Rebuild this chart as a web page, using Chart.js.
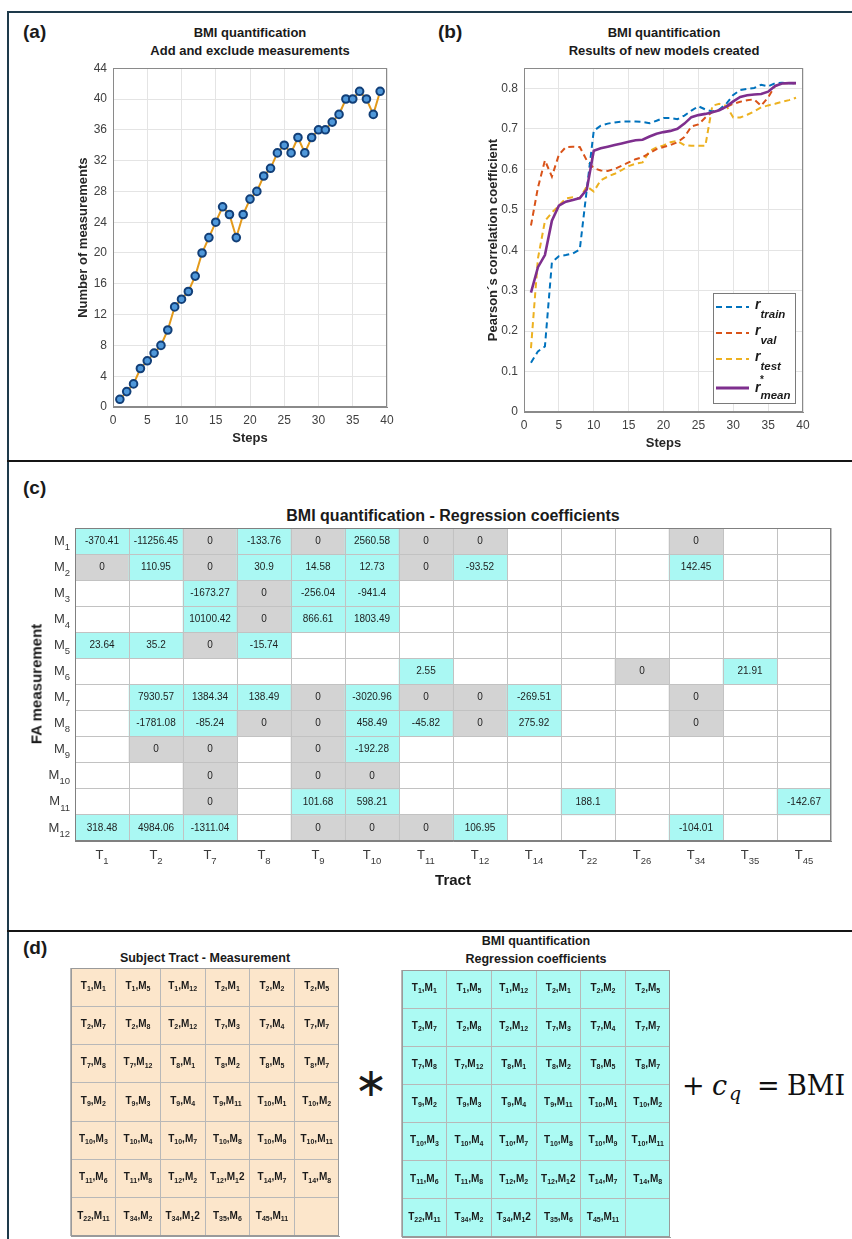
<!DOCTYPE html>
<html>
<head>
<meta charset="utf-8">
<title>BMI quantification</title>
<script src="https://cdn.jsdelivr.net/npm/chart.js@4.4.1/dist/chart.umd.min.js"></script>
<style>
  body { margin: 0; background: #fff; }
  #fig { position: relative; width: 852px; height: 1239px; overflow: hidden; font-family: "Liberation Sans", Arial, sans-serif; color: #1a1a1a; }
  #fig canvas { position: absolute; }
  .rule { position: absolute; }
  .t { position: absolute; white-space: nowrap; transform: translate(-50%, -50%); font-weight: bold; text-align: center; }
  .panel { position: absolute; font-weight: bold; font-size: 19px; line-height: 19px; }
  .eq { position: absolute; font-family: "DejaVu Serif", "Liberation Serif", serif; font-size: 27px; line-height: 30px; white-space: nowrap; color: #111; }
</style>
</head>
<body>
<div id="fig">
  <div class="rule" style="left:7px;top:11px;width:845px;height:2px;background:#1e3a4b"></div>
  <div class="rule" style="left:7px;top:11px;width:2px;height:1228px;background:#1e3a4b"></div>
  <div class="rule" style="left:7px;top:460px;width:845px;height:2px;background:#151515"></div>
  <div class="rule" style="left:7px;top:930px;width:845px;height:2px;background:#151515"></div>

  <div class="panel" style="left:23px;top:22px">(a)</div>
  <div class="panel" style="left:438px;top:22px">(b)</div>
  <div class="panel" style="left:23px;top:478px">(c)</div>
  <div class="panel" style="left:23px;top:938px">(d)</div>

  <div class="t" style="left:250px;top:42px;font-size:13px;line-height:18px">BMI quantification<br>Add and exclude measurements</div>
  <div class="t" style="left:664px;top:42px;font-size:13px;line-height:18px">BMI quantification<br>Results of new models created</div>
  <canvas id="chartA" width="345" height="395" style="left:60px;top:55px"></canvas>
  <canvas id="chartB" width="350" height="400" style="left:470px;top:55px"></canvas>

  <div class="t" style="left:453px;top:516px;font-size:16px">BMI quantification - Regression coefficients</div>
  <canvas id="chartC" width="825" height="400" style="left:20px;top:495px"></canvas>
  <div class="t" style="left:36px;top:684px;font-size:15px;transform:translate(-50%,-50%) rotate(-90deg)">FA measurement</div>
  <div class="t" style="left:453px;top:879px;font-size:15px">Tract</div>

  <div class="t" style="left:205px;top:958px;font-size:12.5px">Subject Tract - Measurement</div>
  <div class="t" style="left:536px;top:950px;font-size:12.5px;line-height:17.5px">BMI quantification<br>Regression coefficients</div>
  <canvas id="chartDL" width="290" height="279" style="left:60px;top:960px"></canvas>
  <canvas id="chartDR" width="290" height="277" style="left:390px;top:962px"></canvas>

  <div class="t" style="left:371px;top:1082px;font-family:'DejaVu Sans',sans-serif;font-weight:normal;font-size:40px;line-height:40px">∗</div>
  <span class="eq" style="left:682px;top:1071px">+</span>
  <span class="eq" style="left:712px;top:1071px;font-style:italic">c</span>
  <span class="eq" style="left:729px;top:1078px;font-style:italic;font-size:19px">q</span>
  <span class="eq" style="left:757px;top:1071px">=</span>
  <span class="eq" style="left:787px;top:1071px">BMI</span>
</div>

<script>
// ---- panel (a): number of measurements per step
const steps = [1, 2, 3, 4, 5, 6, 7, 8, 9, 10, 11, 12, 13, 14, 15, 16, 17, 18, 19, 20,
  21, 22, 23, 24, 25, 26, 27, 28, 29, 30, 31, 32, 33, 34, 35, 36, 37, 38, 39];
const measurementsCount = [1, 2, 3, 5, 6, 7, 8, 10, 13, 14, 15, 17, 20, 22, 24, 26, 25, 22, 25, 27,
  28, 30, 31, 33, 34, 33, 35, 33, 35, 36, 36, 37, 38, 40, 40, 41, 40, 38, 41];

// ---- panel (b): Pearson's r of the new models
const rTrain = [0.122, 0.15, 0.162, 0.37, 0.385, 0.388, 0.392, 0.402, 0.55, 0.695,
  0.708, 0.713, 0.716, 0.718, 0.718, 0.718, 0.717, 0.714, 0.72, 0.727,
  0.727, 0.724, 0.733, 0.745, 0.756, 0.748, 0.743, 0.748, 0.762, 0.784,
  0.796, 0.799, 0.801, 0.809, 0.805, 0.813, 0.814, 0.813, 0.813];
const rVal = [0.461, 0.555, 0.622, 0.582, 0.636, 0.655, 0.656, 0.655, 0.622, 0.603,
  0.597, 0.596, 0.601, 0.609, 0.617, 0.625, 0.63, 0.64, 0.65, 0.655,
  0.66, 0.667, 0.68, 0.706, 0.711, 0.728, 0.742, 0.747, 0.754, 0.762,
  0.767, 0.771, 0.773, 0.757, 0.778, 0.806, 0.813, 0.813, 0.813];
const rTest = [0.158, 0.38, 0.472, 0.493, 0.51, 0.528, 0.531, 0.528, 0.558, 0.545,
  0.573, 0.582, 0.589, 0.598, 0.608, 0.614, 0.617, 0.645, 0.654, 0.659,
  0.667, 0.67, 0.66, 0.658, 0.658, 0.658, 0.757, 0.762, 0.757, 0.728,
  0.728, 0.735, 0.743, 0.753, 0.758, 0.762, 0.767, 0.771, 0.777];
const rMean = [0.295, 0.358, 0.388, 0.473, 0.51, 0.52, 0.524, 0.529, 0.55, 0.646,
  0.652, 0.656, 0.66, 0.664, 0.668, 0.672, 0.673, 0.681, 0.688, 0.692,
  0.695, 0.7, 0.713, 0.729, 0.734, 0.737, 0.741, 0.746, 0.755, 0.768,
  0.779, 0.783, 0.785, 0.786, 0.792, 0.806, 0.812, 0.813, 0.813];

// ---- panel (c): regression coefficients (null = tract/measurement not used)
const tractLabels = ['1', '2', '7', '8', '9', '10', '11', '12', '14', '22', '26', '34', '35', '45'];
const measureLabels = ['1', '2', '3', '4', '5', '6', '7', '8', '9', '10', '11', '12'];
const coefM1 = [-370.41, -11256.45, 0, -133.76, 0, 2560.58, 0, 0, null, null, null, 0, null, null];
const coefM2 = [0, 110.95, 0, 30.9, 14.58, 12.73, 0, -93.52, null, null, null, 142.45, null, null];
const coefM3 = [null, null, -1673.27, 0, -256.04, -941.4, null, null, null, null, null, null, null, null];
const coefM4 = [null, null, 10100.42, 0, 866.61, 1803.49, null, null, null, null, null, null, null, null];
const coefM5 = [23.64, 35.2, 0, -15.74, null, null, null, null, null, null, null, null, null, null];
const coefM6 = [null, null, null, null, null, null, 2.55, null, null, null, 0, null, 21.91, null];
const coefM7 = [null, 7930.57, 1384.34, 138.49, 0, -3020.96, 0, 0, -269.51, null, null, 0, null, null];
const coefM8 = [null, -1781.08, -85.24, 0, 0, 458.49, -45.82, 0, 275.92, null, null, 0, null, null];
const coefM9 = [null, 0, 0, null, 0, -192.28, null, null, null, null, null, null, null, null];
const coefM10 = [null, null, 0, null, 0, 0, null, null, null, null, null, null, null, null];
const coefM11 = [null, null, 0, null, 101.68, 598.21, null, null, null, 188.1, null, null, null, -142.67];
const coefM12 = [318.48, 4984.06, -1311.04, null, 0, 0, 0, 106.95, null, null, null, -104.01, null, null];
const coefRows = [coefM1, coefM2, coefM3, coefM4, coefM5, coefM6, coefM7, coefM8, coefM9, coefM10, coefM11, coefM12];

// ---- panel (d): tract-measurement pairs
const pairColumns = ['1', '2', '3', '4', '5', '6'];
const pairRow1 = ['T1,M1', 'T1,M5', 'T1,M12', 'T2,M1', 'T2,M2', 'T2,M5'];
const pairRow2 = ['T2,M7', 'T2,M8', 'T2,M12', 'T7,M3', 'T7,M4', 'T7,M7'];
const pairRow3 = ['T7,M8', 'T7,M12', 'T8,M1', 'T8,M2', 'T8,M5', 'T8,M7'];
const pairRow4 = ['T9,M2', 'T9,M3', 'T9,M4', 'T9,M11', 'T10,M1', 'T10,M2'];
const pairRow5 = ['T10,M3', 'T10,M4', 'T10,M7', 'T10,M8', 'T10,M9', 'T10,M11'];
const pairRow6 = ['T11,M6', 'T11,M8', 'T12,M2', 'T12,M1 2', 'T14,M7', 'T14,M8'];
const pairRow7 = ['T22,M11', 'T34,M2', 'T34,M1 2', 'T35,M6', 'T45,M11', ''];
const pairRows = [pairRow1, pairRow2, pairRow3, pairRow4, pairRow5, pairRow6, pairRow7];

const FONT = '"Liberation Sans", Arial, sans-serif';
Chart.defaults.font.family = FONT;
Chart.defaults.animation = false;

const C_TRAIN = '#0072BD', C_VAL = '#D95319', C_TEST = '#EDB120', C_MEAN = '#7E2F8E';
const TICK = '#404040', GRID = '#e4e4e4', BOX = '#8a8a8a';

// box around the plot area, like a MATLAB axes
function framePlugin(color) {
  return {
    id: 'frame',
    afterDraw(chart) {
      const a = chart.chartArea, ctx = chart.ctx;
      ctx.save();
      ctx.strokeStyle = color;
      ctx.lineWidth = 1;
      ctx.strokeRect(Math.round(a.left) + 0.5, Math.round(a.top) + 0.5,
        Math.round(a.right - a.left) - 1, Math.round(a.bottom - a.top) - 1);
      ctx.restore();
    }
  };
}

// draws text runs (normal + subscript) in one go
function drawRuns(ctx, runs, x, y, align) {
  let w = 0;
  runs.forEach(r => { ctx.font = r.font; r.w = ctx.measureText(r.t).width; w += r.w; });
  let cx = align === 'right' ? x - w : align === 'center' ? x - w / 2 : x;
  ctx.textAlign = 'left';
  ctx.textBaseline = 'middle';
  runs.forEach(r => { ctx.font = r.font; ctx.fillText(r.t, cx, y + (r.dy || 0)); cx += r.w; });
}

function lineScale(min, max, step, title, size, fmt) {
  return {
    type: 'linear', min: min, max: max,
    ticks: { stepSize: step, color: TICK, font: { size: 12 }, padding: 6, maxRotation: 0, callback: fmt },
    grid: { color: GRID, drawTicks: false },
    border: { color: BOX },
    title: { display: true, text: title, color: '#262626', font: { size: 13, weight: 'bold' }, padding: 4 },
    afterFit: size
  };
}

// ---------- (a)
new Chart(document.getElementById('chartA'), {
  type: 'line',
  data: {
    datasets: [{
      data: steps.map((s, i) => ({ x: s, y: measurementsCount[i] })),
      borderColor: '#E39A1B', borderWidth: 2, tension: 0,
      pointRadius: 3.8, pointBorderWidth: 2,
      pointBackgroundColor: '#4f98da', pointBorderColor: '#123f78'
    }]
  },
  options: {
    responsive: false,
    layout: { padding: { left: 12, top: 6, right: 18, bottom: 0 } },
    plugins: { legend: { display: false }, tooltip: { enabled: false } },
    scales: {
      x: lineScale(0, 40, 5, 'Steps', s => { s.height = 43; }),
      y: lineScale(0, 44, 4, 'Number of measurements', s => { s.width = 41; })
    }
  },
  plugins: [framePlugin(BOX)]
});

// ---------- (b)
const legendRows = [
  { sub: 'train', color: C_TRAIN, dash: [6, 4], width: 2, y: 14 },
  { sub: 'val', color: C_VAL, dash: [6, 4], width: 2, y: 40 },
  { sub: 'test', color: C_TEST, dash: [6, 4], width: 2, y: 66 },
  { sub: 'mean', color: C_MEAN, dash: [], width: 3, y: 95, star: true }
];
const rLegend = {
  id: 'rLegend',
  afterDraw(chart) {
    const { ctx, chartArea: a } = chart;
    const w = 82, h = 110;
    const x0 = Math.round(a.right - 8 - w), y0 = Math.round(a.bottom - 9 - h);
    ctx.save();
    ctx.fillStyle = '#fff';
    ctx.fillRect(x0, y0, w, h);
    ctx.strokeStyle = '#7a7a7a';
    ctx.lineWidth = 1;
    ctx.strokeRect(x0 + 0.5, y0 + 0.5, w, h);
    legendRows.forEach(it => {
      const y = y0 + it.y;
      ctx.strokeStyle = it.color;
      ctx.lineWidth = it.width;
      ctx.setLineDash(it.dash);
      ctx.beginPath(); ctx.moveTo(x0 + 3, y); ctx.lineTo(x0 + 36, y); ctx.stroke();
      ctx.setLineDash([]);
      ctx.fillStyle = '#1a1a1a';
      ctx.textAlign = 'left';
      ctx.textBaseline = 'alphabetic';
      ctx.font = 'italic bold 14px ' + FONT;
      ctx.fillText('r', x0 + 42, y + (it.star ? 4 : 1.5));
      const rw = ctx.measureText('r').width;
      if (it.star) {
        ctx.font = 'bold 10px ' + FONT;
        ctx.fillText('*', x0 + 47, y - 5);
      }
      ctx.font = 'italic bold 11.5px ' + FONT;
      ctx.fillText(it.sub, x0 + 42 + rw, y + 11);
    });
    ctx.restore();
  }
};

function rSeries(values, color, dash, width, order) {
  return {
    data: steps.map((s, i) => ({ x: s, y: values[i] })),
    borderColor: color, borderWidth: width, borderDash: dash,
    pointRadius: 0, tension: 0, order: order
  };
}

new Chart(document.getElementById('chartB'), {
  type: 'line',
  data: {
    datasets: [
      rSeries(rTrain, C_TRAIN, [6, 4], 2, 1),
      rSeries(rVal, C_VAL, [6, 4], 2, 2),
      rSeries(rTest, C_TEST, [6, 4], 2, 3),
      rSeries(rMean, C_MEAN, [], 2.6, 0)
    ]
  },
  options: {
    responsive: false,
    layout: { padding: { left: 12, top: 6, right: 17, bottom: 0 } },
    plugins: { legend: { display: false }, tooltip: { enabled: false } },
    scales: {
      x: lineScale(0, 40, 5, 'Steps', s => { s.height = 43; }),
      y: lineScale(0, 0.85, 0.1, 'Pearson´s correlation coefficient', s => { s.width = 42; },
        v => (v > 0.81 ? '' : v === 0 ? '0' : v.toFixed(1)))
    }
  },
  plugins: [framePlugin(BOX), rLegend]
});

// ---------- (c)
const ZERO_GRAY = '#d3d3d3', COEF_CYAN = '#aaf8f3';

const coefLabels = {
  id: 'coefLabels',
  afterDraw(chart) {
    const { ctx, chartArea: a, scales } = chart;
    ctx.save();
    ctx.fillStyle = '#1e1e1e';
    ctx.font = '10px ' + FONT;
    ctx.textAlign = 'center';
    ctx.textBaseline = 'middle';
    coefRows.forEach((row, r) => {
      const meta = chart.getDatasetMeta(r);
      row.forEach((v, j) => {
        if (v === null) return;
        const el = meta.data[j];
        ctx.fillText(String(v), el.x, (el.y + el.base) / 2);
      });
    });
    ctx.fillStyle = '#3a3a3a';
    measureLabels.forEach((m, i) => {
      const y = scales.y.getPixelForValue(i + 0.5);
      drawRuns(ctx, [{ t: 'M', font: '13px ' + FONT }, { t: m, font: '9.5px ' + FONT, dy: 6 }], a.left - 5, y, 'right');
    });
    tractLabels.forEach((t, j) => {
      const x = scales.x.getPixelForValue(j);
      drawRuns(ctx, [{ t: 'T', font: '13px ' + FONT }, { t: t, font: '9.5px ' + FONT, dy: 6 }], x, a.bottom + 14, 'center');
    });
    ctx.restore();
  }
};

// cells are floating bars; the grid is drawn on top of them
function matrixScales(rows, xh, yw, gridColor, borderColor) {
  return {
    x: {
      type: 'category', offset: true,
      grid: { offset: true, color: gridColor, drawTicks: false, z: 1 },
      ticks: { display: false },
      border: { color: borderColor, z: 2 },
      afterFit: s => { s.height = xh; }
    },
    y: {
      type: 'linear', min: 0, max: rows, reverse: true,
      ticks: { display: false, stepSize: 1 },
      grid: { color: gridColor, drawTicks: false, z: 1 },
      border: { color: borderColor, z: 2 },
      afterFit: s => { s.width = yw; }
    }
  };
}

new Chart(document.getElementById('chartC'), {
  type: 'bar',
  data: {
    labels: tractLabels,
    datasets: coefRows.map((row, r) => ({
      data: row.map(v => (v === null ? null : [r, r + 1])),
      backgroundColor: row.map(v => (v === 0 ? ZERO_GRAY : COEF_CYAN)),
      grouped: false, barPercentage: 1, categoryPercentage: 1, borderWidth: 0
    }))
  },
  options: {
    responsive: false,
    layout: { padding: { left: 0, top: 33, right: 14, bottom: 0 } },
    plugins: { legend: { display: false }, tooltip: { enabled: false } },
    scales: matrixScales(12, 54, 55, '#c2c2c2', '#808080')
  },
  plugins: [coefLabels, framePlugin('#808080')]
});

// ---------- (d)
function pairRuns(label) {
  const m = label.match(/^T(\d+),M(\d+)(?: (\S+))?$/);
  if (!m) return [];
  const big = 'bold 10px ' + FONT, small = 'bold 7px ' + FONT;
  const runs = [
    { t: 'T', font: big }, { t: m[1], font: small, dy: 3 },
    { t: ',', font: big }, { t: 'M', font: big }, { t: m[2], font: small, dy: 3 }
  ];
  if (m[3]) runs.push({ t: m[3], font: big });
  return runs;
}

const pairLabels = {
  id: 'pairLabels',
  afterDraw(chart) {
    const ctx = chart.ctx;
    ctx.save();
    ctx.fillStyle = '#1a1a1a';
    pairRows.forEach((row, r) => {
      const meta = chart.getDatasetMeta(r);
      row.forEach((lab, j) => {
        const el = meta.data[j];
        drawRuns(ctx, pairRuns(lab), el.x, (el.y + el.base) / 2 - 1, 'center');
      });
    });
    ctx.restore();
  }
};

function pairChart(id, fill, pad, xh, yw) {
  new Chart(document.getElementById(id), {
    type: 'bar',
    data: {
      labels: pairColumns,
      datasets: pairRows.map((row, r) => ({
        data: row.map(() => [r, r + 1]),
        backgroundColor: fill,
        grouped: false, barPercentage: 1, categoryPercentage: 1, borderWidth: 0
      }))
    },
    options: {
      responsive: false,
      layout: { padding: pad },
      plugins: { legend: { display: false }, tooltip: { enabled: false } },
      scales: matrixScales(7, xh, yw, '#b8b8b8', '#9a9a9a')
    },
    plugins: [pairLabels, framePlugin('#9a9a9a')]
  });
}

pairChart('chartDL', '#fce6cb', { left: 0, top: 8, right: 11, bottom: 0 }, 3, 11);
pairChart('chartDR', '#acfaf3', { left: 0, top: 8, right: 10, bottom: 0 }, 2, 12);
</script>
</body>
</html>
